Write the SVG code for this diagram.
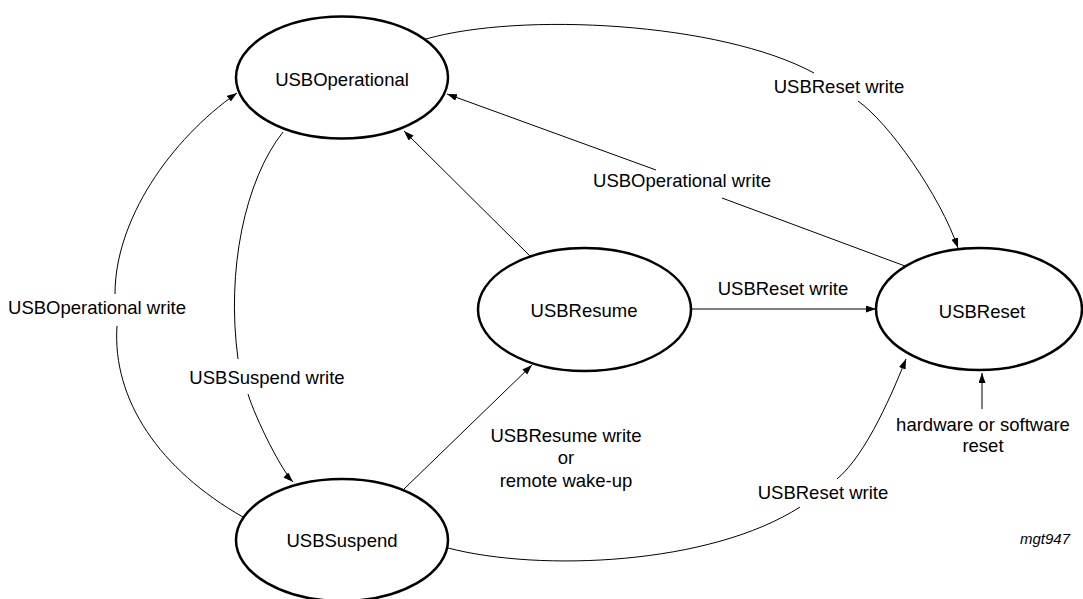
<svg xmlns="http://www.w3.org/2000/svg" width="1083" height="599" viewBox="0 0 1083 599">
<defs>
<marker id="arr" markerUnits="userSpaceOnUse" markerWidth="11" markerHeight="8" refX="10" refY="3.5" orient="auto">
<path d="M0,0 L10,3.5 L0,7 z" fill="#000"/>
</marker>
<style>
.node{fill:#fff;stroke:#000;stroke-width:2.5}
.edge{fill:none;stroke:#000;stroke-width:1;marker-end:url(#arr)}
.line{fill:none;stroke:#000;stroke-width:1}
text{font-family:"Liberation Sans",Arial,sans-serif;font-size:18.5px;fill:#000;text-anchor:middle}
.tag{font-size:15px;font-style:italic;text-anchor:end}
</style>
</defs>
<rect width="1083" height="599" fill="#fff"/>
<g id="connectors">
<!-- Operational -> Reset (top arc) -->
<path class="line" d="M426,39 C520,12 720,22 814,73"/>
<path class="edge" d="M858,101 C888,122 940,195 958,248"/>
<!-- Reset -> Operational -->
<path class="line" d="M905,266 L722,198"/>
<path class="edge" d="M656,170 L447,94"/>
<!-- Resume -> Operational -->
<path class="edge" d="M530,256 L404,131"/>
<!-- Resume -> Reset -->
<path class="edge" d="M691,309 L876,309"/>
<!-- Suspend -> Resume -->
<path class="edge" d="M404,489 L532,365"/>
<!-- Suspend -> Reset (bottom arc) -->
<path class="line" d="M448,548 C540,572 710,565 800,507"/>
<path class="edge" d="M837,479 C867,454 894,389 906,359"/>
<!-- Operational -> Suspend -->
<path class="line" d="M283,132 C245,180 226,270 238,359"/>
<path class="edge" d="M248,394 C256,420 282,471 293,482"/>
<!-- Suspend -> Operational (left arc) -->
<path class="line" d="M243,517 C160,470 112,400 117,326"/>
<path class="edge" d="M115,294 C115,220 170,140 237,93"/>
<!-- hardware/software reset -->
<path class="edge" d="M982,409 L982,373"/>
</g>
<g id="labels">
<text x="839" y="93">USBReset write</text>
<text x="682" y="187">USBOperational write</text>
<text x="783" y="295">USBReset write</text>
<text x="97" y="314">USBOperational write</text>
<text x="267" y="384">USBSuspend write</text>
<text x="566" y="442">USBResume write</text>
<text x="566" y="464">or</text>
<text x="566" y="487">remote wake-up</text>
<text x="823" y="499">USBReset write</text>
<text x="983" y="431">hardware or software</text>
<text x="983" y="452">reset</text>
<text class="tag" x="1070" y="544">mgt947</text>
</g>
<g id="USBOperational">
<ellipse class="node" cx="342" cy="77.5" rx="106" ry="61"/>
<text x="342" y="86">USBOperational</text>
</g>
<g id="USBResume">
<ellipse class="node" cx="584.5" cy="309.5" rx="106.5" ry="61.5"/>
<text x="584" y="317">USBResume</text>
</g>
<g id="USBReset">
<ellipse class="node" cx="979" cy="309" rx="103" ry="61"/>
<text x="982" y="318">USBReset</text>
</g>
<g id="USBSuspend">
<ellipse class="node" cx="342" cy="540" rx="106" ry="61"/>
<text x="342" y="547">USBSuspend</text>
</g>
</svg>
